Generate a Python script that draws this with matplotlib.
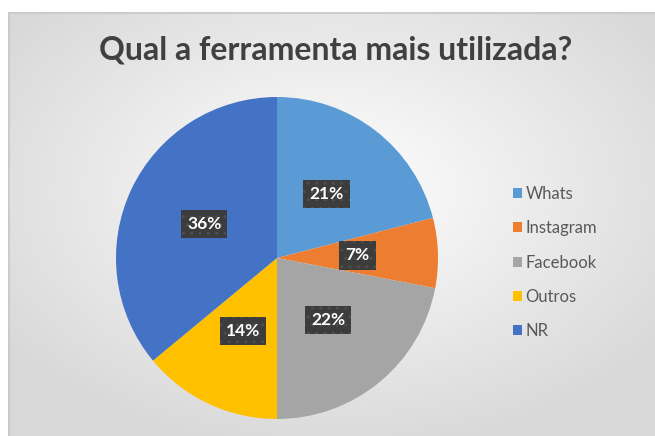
import numpy as np
import matplotlib
matplotlib.use("Agg")
import matplotlib.pyplot as plt
from matplotlib.patches import Patch

categories = ["Whats", "Instagram", "Facebook", "Outros", "NR"]
values = [21, 7, 22, 14, 36]
colors = ["#5b9bd5", "#ed7d31", "#a5a5a5", "#ffc000", "#4472c4"]
title = "Qual a ferramenta mais utilizada?"

W, H = 655, 436
fig = plt.figure(figsize=(W / 100, H / 100), dpi=100)
fig.patch.set_facecolor("white")

# chart area background with radial gradient
x0, y0 = 8, 12
bg = fig.add_axes([x0 / W, 0, (W - x0) / W, (H - y0) / H])
bg.set_axis_off()
ny, nx = 300, 450
yy, xx = np.mgrid[0:ny, 0:nx]
cx, cy = nx * 0.5, ny * 0.42
r = np.sqrt(((xx - cx) / nx) ** 2 + ((yy - cy) / ny) ** 2) / 0.62
r = np.clip(r, 0, 1)
c0 = np.array([1.0, 1.0, 1.0])
c1 = np.array([0.85, 0.85, 0.85])
img = c0[None, None, :] * (1 - r[..., None]) + c1[None, None, :] * r[..., None]
bg.imshow(img, extent=[0, 1, 0, 1], aspect="auto", origin="upper", zorder=0)
bg.set_xlim(0, 1)
bg.set_ylim(0, 1)
bg.plot([0.001, 0.001, 1], [0, 0.998, 0.998], color="#c8c8c8", lw=1.2,
        transform=bg.transAxes, clip_on=False)

# title
fig.text(336 / W, 1 - 50 / H, title, ha="center", va="center",
         fontsize=23, fontweight="bold", color="#404040", family="Lato")

# pie
pcx, pcy, pr = 277, 258, 161
ax = fig.add_axes([(pcx - pr) / W, (H - pcy - pr) / H, 2 * pr / W, 2 * pr / H])
ax.set_axis_off()
wedges, texts, autotexts = ax.pie(
    values, colors=colors, startangle=90, counterclock=False,
    autopct=lambda p: f"{p:.0f}%", pctdistance=0.5, radius=1,
    wedgeprops=dict(linewidth=0),
    textprops=dict(color="white", fontsize=12.5, fontweight="bold", family="Lato"),
)
for t in autotexts:
    t.set_bbox(dict(boxstyle="square,pad=0.35", facecolor="#3c3c3c",
                    edgecolor="#4e4e4e", hatch="..", linewidth=0))
ax.set_xlim(-1, 1)
ax.set_ylim(-1, 1)

# legend
handles = [Patch(facecolor=c, edgecolor="none") for c in colors]
leg = fig.legend(handles, categories, loc="upper left",
                 bbox_to_anchor=(498 / W, 1 - 171 / H), frameon=False,
                 handlelength=0.55, handleheight=0.55, handletextpad=0.2,
                 labelspacing=1.1, prop=dict(family="Lato", size=12))
for t in leg.get_texts():
    t.set_color("#595959")

fig.savefig("out.png", dpi=100)
